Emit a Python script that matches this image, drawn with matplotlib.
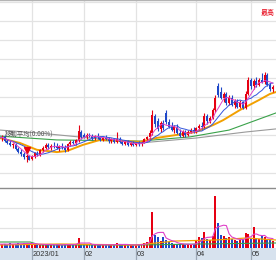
import numpy as np
import pandas as pd
import matplotlib
matplotlib.use("Agg")
import matplotlib.pyplot as plt

# ---------------- data ----------------
open_ = [1098,1092,1096,1084,1080,1073,1075,1062,1056,1050,1041,1045,
         1036,1045,1050,1048,1061,1066,1074,1068,1072,1070,1066,1072,1068,1060,1076,1082,1079,1084,1108,
         1100,1096,1101,1097,1092,1098,1094,1088,1093,1090,1084,1089,1082,1090,1081,1077,1083,1075,1079,
         1074,1078,1076,1080,1089,1094,1104,1150,1138,1116,1132,1158,1134,1122,1114,1120,1106,1098,1108,1100,1108,1112,
         1110,1118,1124,1122,1150,1136,1146,1166,1230,1214,1198,1208,1184,1198,1180,1190,1175,1186,1172,1208,
         1245,1228,1242,1232,1246,1240,1258,1232,1222]
high = [1104,1100,1099,1090,1086,1080,1078,1068,1062,1055,1050,1048,
        1048,1055,1058,1064,1070,1078,1080,1077,1082,1078,1075,1080,1074,1078,1086,1088,1090,1126,1112,
        1106,1104,1106,1103,1100,1104,1098,1096,1099,1094,1092,1093,1108,1094,1088,1086,1087,1082,1083,
        1082,1085,1084,1092,1098,1112,1166,1156,1145,1138,1140,1166,1142,1134,1126,1128,1116,1112,1114,1112,1118,1121,
        1122,1128,1134,1158,1156,1150,1172,1204,1237,1226,1214,1212,1204,1204,1196,1196,1192,1190,1216,1253,
        1250,1248,1252,1250,1262,1266,1264,1238,1232]
low = [1090,1085,1082,1076,1070,1066,1060,1052,1046,1038,1030,1033,
       1033,1040,1044,1046,1055,1062,1064,1060,1066,1063,1058,1064,1055,1058,1072,1076,1075,1082,1090,
       1092,1090,1094,1088,1086,1090,1084,1084,1086,1080,1080,1078,1080,1078,1074,1073,1072,1070,1071,
       1070,1072,1071,1078,1084,1090,1100,1122,1110,1108,1112,1128,1118,1110,1105,1102,1094,1094,1096,1097,1104,1106,
       1106,1112,1116,1118,1130,1132,1142,1160,1200,1194,1186,1180,1178,1176,1172,1170,1170,1168,1168,1204,
       1222,1222,1226,1228,1236,1234,1228,1216,1212]
close = [1092,1096,1084,1080,1073,1076,1062,1056,1050,1041,1046,1034,
         1045,1052,1047,1061,1066,1074,1068,1072,1070,1066,1072,1068,1060,1076,1082,1079,1086,1110,1094,
         1096,1101,1097,1092,1098,1094,1088,1093,1090,1084,1089,1082,1090,1081,1077,1083,1075,1079,1074,
         1078,1076,1080,1089,1094,1106,1152,1128,1116,1132,1118,1134,1122,1114,1120,1106,1098,1108,1100,1108,1112,1110,
         1118,1124,1120,1150,1136,1146,1166,1198,1204,1198,1208,1184,1198,1180,1190,1175,1186,1172,1208,1245,
         1228,1242,1232,1246,1240,1258,1232,1222,1226]
volume = [200,180,220,160,240,190,210,230,200,260,240,220,
          200,180,150,220,170,160,190,150,140,180,160,150,200,170,190,160,180,500,220,
          180,160,200,150,170,140,160,190,150,170,140,160,250,180,150,160,140,170,150,
          160,180,170,250,300,550,1800,650,550,350,550,400,300,250,200,220,180,200,170,190,160,200,
          350,550,500,800,450,400,600,2600,1250,650,600,500,550,450,400,350,400,450,750,700,
          500,1050,500,450,600,550,450,400,350]

# longer moving averages (day index, value)
ma_orange_idx = [0.3, 7.6, 13.8, 21.1, 24.8, 30.6, 36.8, 51.5, 57.3, 64.6, 71.9, 78.1, 81.8, 88.0, 94.9, 98.9, 101.1]
ma_orange_val = [1092, 1079, 1061, 1055, 1058, 1074, 1087, 1082, 1092, 1100, 1108, 1126, 1139, 1166, 1192, 1208, 1213]
ma_green_idx = [0.3, 21.1, 51.5, 69.7, 84.0, 101.1]
ma_green_val = [1097, 1087, 1084, 1095, 1113, 1158]
ma_gray_idx = [0.3, 14.9, 33.2, 51.5, 71.9, 90.2, 101.1]
ma_gray_val = [1113, 1105, 1092, 1079, 1092, 1108, 1116]

vol_orange_idx = [0.3, 22.2, 50.0, 57.3, 64.6, 79.2, 90.2, 101.1]
vol_orange_val = [150, 200, 150, 250, 350, 400, 500, 400]
vol_green_idx = [0.3, 11.3, 14.9, 51.5, 73.4, 101.1]
vol_green_val = [300, 300, 150, 150, 200, 250]

month_idx = [12, 31, 50, 72, 92]
month_labels = ["2023/01", "02", "03", "04", "05"]
low_mark_idx = 10
low_mark_val = 1061

# ---------------- style ----------------
RED = "#e60012"
BLUE = "#1f48c8"
GRID = "#e3e3e3"
W, H = 276, 260
XL = (0.31, 101.13)

fig = plt.figure(figsize=(W / 100, H / 100), dpi=100)
fig.patch.set_facecolor("white")

def rect(top, bottom):
    return [0, (H - bottom) / H, 1, (bottom - top) / H]

axp = fig.add_axes(rect(0, 188))
axv = fig.add_axes(rect(188, 248))
axb = fig.add_axes(rect(248, 260))

o = np.array(open_, float); c = np.array(close, float)
hi = np.array(high, float); lo = np.array(low, float)
x = np.arange(len(c))
up = c >= o
cols = np.where(up, RED, BLUE)

# price panel
for g in np.arange(1000, 1460, 50):
    axp.axhline(g, color=GRID, lw=0.9, zorder=0)
for m in month_idx:
    axp.axvline(m, color=GRID, lw=0.9, zorder=0)

s = pd.Series(c)
ma5 = s.rolling(5, min_periods=1).mean()
ma10 = s.rolling(10, min_periods=1).mean()
axp.plot(ma_gray_idx, ma_gray_val, color="#9a9a9a", lw=0.8, zorder=1)
axp.plot(ma_green_idx, ma_green_val, color="#3aa24a", lw=0.8, zorder=1)
axp.plot(ma_orange_idx, ma_orange_val, color="#f2a000", lw=1.4, zorder=2)

axp.vlines(x, lo, hi, colors=cols, lw=0.8, zorder=3)
body_b = np.minimum(o, c)
body_h = np.maximum(np.abs(c - o), 1.2)
axp.bar(x, body_h, bottom=body_b, width=0.72, color=cols, lw=0, zorder=3)

axp.plot(x, ma10, color="#3355dd", lw=0.7, zorder=4)
axp.plot(x, ma5, color="#e040c8", lw=0.7, zorder=4)
axp.plot([low_mark_idx], [low_mark_val], marker="v", color=RED, ms=4, zorder=5)

axp.set_xlim(*XL)
axp.set_ylim(960.53, 1455.26)
axp.set_xticks([]); axp.set_yticks([])
for k in ["left", "right", "bottom"]:
    axp.spines[k].set_visible(False)
axp.spines["top"].set_color("#b4b4b4")
axp.spines["top"].set_linewidth(1.0)

fig.text(53 / W, 1 - 134.5 / H, "移動平均(0.00%)", ha="right", va="center",
         fontsize=4.6, color="#555555", family=["Noto Sans CJK JP", "DejaVu Sans"])
fig.text(275 / W, 1 - 12.5 / H, "最高", ha="right", va="center",
         fontsize=5.0, color=RED, family=["Noto Sans CJK JP", "DejaVu Sans"])

# volume panel
v = np.array(volume, float)
for g in [1000, 2000]:
    axv.axhline(g, color=GRID, lw=0.9, zorder=0)
for m in month_idx:
    axv.axvline(m, color=GRID, lw=0.9, zorder=0)
axv.bar(x, v, width=0.72, color=cols, lw=0, zorder=2)
vma5 = pd.Series(v).rolling(5, min_periods=1).mean()
axv.plot(vol_green_idx, vol_green_val, color="#3aa24a", lw=0.8, zorder=3)
axv.plot(vol_orange_idx, vol_orange_val, color="#f2a000", lw=0.9, zorder=3)
axv.plot(x, vma5, color="#e040c8", lw=0.8, zorder=4)
axv.set_xlim(*XL)
axv.set_ylim(0, 3000)
axv.set_xticks([]); axv.set_yticks([])
for k in ["left", "right", "bottom"]:
    axv.spines[k].set_visible(False)
axv.spines["top"].set_color("#8c8c8c")
axv.spines["top"].set_linewidth(1.0)

# date band
axb.set_facecolor("#d7e2ee")
axb.set_xlim(*XL)
axb.set_ylim(0, 1)
axb.set_xticks([]); axb.set_yticks([])
for k in axb.spines:
    axb.spines[k].set_visible(False)
for m, lab in zip(month_idx, month_labels):
    axb.axvline(m, color="#9aa6b4", lw=0.9)
    axb.text(m + 0.3, 0.45, lab, ha="left", va="center", fontsize=5.3,
             color="#333333", family="Liberation Sans")

fig.savefig("out.png", dpi=100)
